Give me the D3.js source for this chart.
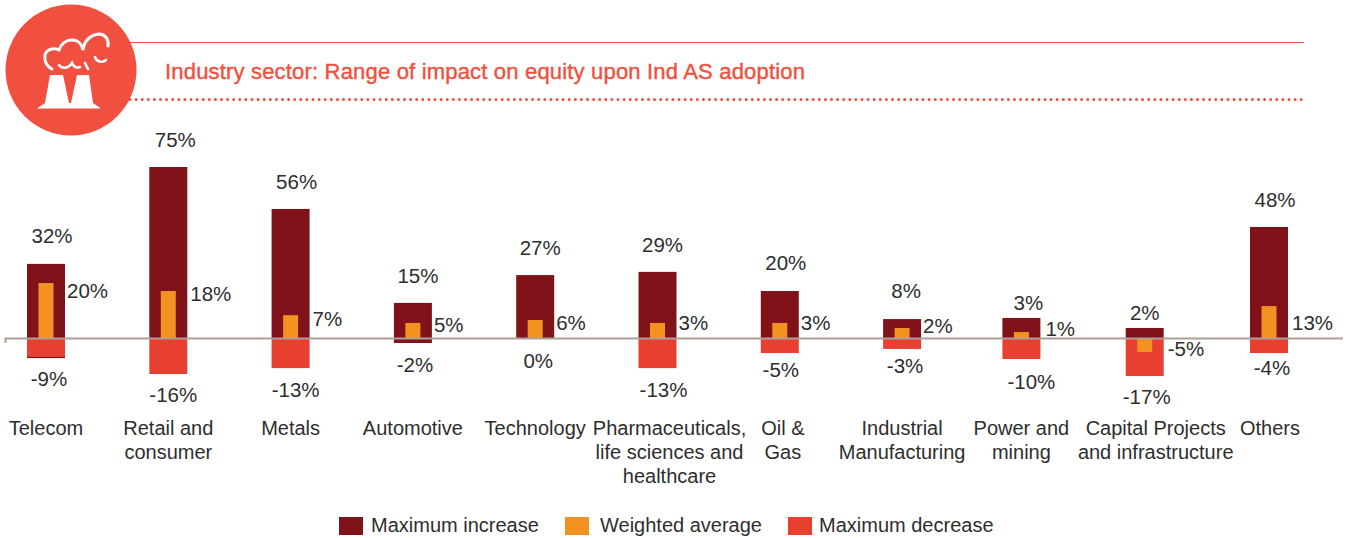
<!DOCTYPE html>
<html><head><meta charset="utf-8">
<style>html,body{margin:0;padding:0;background:#fff;overflow:hidden}svg{display:block}text{font-family:"Liberation Sans",Arial,sans-serif}</style>
<script src="https://cdn.jsdelivr.net/npm/d3@7"></script></head><body>
<svg id="c" width="1349" height="538"></svg>
<script>
const categories=[["Telecom"],["Retail and","consumer"],["Metals"],["Automotive"],["Technology"],["Pharmaceuticals,","life sciences and","healthcare"],["Oil &","Gas"],["Industrial","Manufacturing"],["Power and","mining"],["Capital Projects","and infrastructure"],["Others"]];
// printed labels
const maxIncrease=[32,75,56,15,27,29,20,8,3,2,48];
const weightedAverage=[20,18,7,5,6,3,3,2,1,-5,13];
const maxDecrease=[-9,-16,-13,-2,0,-13,-5,-3,-10,-17,-4];
// bar lengths as drawn in the picture (they do not always follow the printed label)
const drawnIncrease=[32.5,75,56.6,15.4,27.6,29,20.6,8.3,8.8,4.4,48.7];
const drawnIncreaseBelow=[-8.8,0,0,-2.2,0,0,0,0,0,0,0];
const drawnAverage=[24.1,20.6,10,6.6,7.9,6.6,6.6,4.4,2.6,-6.1,14];
const drawnDecrease=[-8.3,-15.8,-13.2,0,0,-13.2,-6.6,-4.8,-9.2,-16.7,-6.6];
const legendLabels=["Maximum increase","Weighted average","Maximum decrease"];
const title="Industry sector: Range of impact on equity upon Ind AS adoption";
const colors={inc:"#7f1319",avg:"#f39220",dec:"#e84030",axis:"#ab9f97",head:"#f15040",text:"#2e2e2e"};
// layout nudges
const barDx=[0,0,0,0,0,0,0,0,-3,-2,0];
const catDx=[0,0,0,0,0,12,3,0,0,11,1];
const topDx=[6,7,6,5,5,5,6,4,7,0,6];
const topDy=[-21,-20,-20,-20,-20,-20,-21,-21,-8,-8,-20];
const botDx=[3,5,5,2,3,6,1,3,10,2,3];
const botDy=[28,28,29,29,30,29,24,24,30,28,22];
const avgDx=[21,22,22,21,21,21,21,21,24,23,23];
const avgDy=[15,10,11,9,10,7,7,5,4,4,24];
const svg=d3.select("#c");
const idx=categories.map((d,i)=>i);
const xs=d3.scalePoint().domain(idx).range([46,1269]);
const x=i=>xs(i)+barDx[i];
const y=d3.scaleLinear().domain([0,75]).range([338,167]);
const bw=38,aw=15;
const bars=svg.append("g");
const rect=(hi,lo,w,col)=>bars.append("g").selectAll("rect").data(idx).join("rect")
 .attr("x",i=>x(i)-w/2).attr("width",w)
 .attr("y",i=>y(Math.max(hi[i],lo[i]))).attr("height",i=>Math.abs(y(lo[i])-y(hi[i]))).attr("fill",col);
const zeros=idx.map(()=>0);
rect(drawnIncrease,drawnIncreaseBelow,bw,colors.inc);
rect(zeros,drawnDecrease,bw,colors.dec);
rect(drawnAverage,zeros,aw,colors.avg);
svg.append("path").attr("d","M5.5 343V338.5H1343").attr("fill","none").attr("stroke",colors.axis).attr("stroke-width",2);
const fs=20.5;
const lab=(t,px,py,a)=>svg.append("text").attr("x",px).attr("y",py).attr("text-anchor",a||"middle").attr("font-size",fs).attr("fill",colors.text).text(t);
idx.forEach(i=>{
 lab(maxIncrease[i]+"%",x(i)+topDx[i],y(drawnIncrease[i])+topDy[i]);
 const bot=Math.min(drawnDecrease[i],drawnIncreaseBelow[i]);
 lab(maxDecrease[i]+"%",x(i)+botDx[i],y(bot)+botDy[i]);
 lab(weightedAverage[i]+"%",x(i)+avgDx[i],y(drawnAverage[i])+avgDy[i],"start");
});
idx.forEach(i=>{
 const t=svg.append("text").attr("text-anchor","middle").attr("font-size",20).attr("fill",colors.text);
 categories[i].forEach((s,k)=>t.append("tspan").attr("x",x(i)+catDx[i]).attr("y",435+k*24).text(s));
});
[[339,371,colors.inc],[565,600,colors.avg],[788,819,colors.dec]].forEach((l,i)=>{
 svg.append("rect").attr("x",l[0]).attr("y",517).attr("width",24).attr("height",18).attr("fill",l[2]);
 svg.append("text").attr("x",l[1]).attr("y",532).attr("font-size",20).attr("fill",colors.text).text(legendLabels[i]);
});
svg.append("line").attr("x1",128).attr("x2",1304).attr("y1",42.5).attr("y2",42.5).attr("stroke",colors.head).attr("stroke-width",1.2);
svg.append("line").attr("x1",130).attr("x2",1306).attr("y1",99.5).attr("y2",99.5).attr("stroke",colors.head).attr("stroke-width",3).attr("stroke-dasharray","0 6.1").attr("stroke-linecap","round");
svg.append("text").attr("x",165).attr("y",79).attr("font-size",22).attr("fill",colors.head).attr("stroke",colors.head).attr("stroke-width",.4).attr("textLength",640).text(title);
svg.append("circle").attr("cx",71).attr("cy",70).attr("r",65.5).attr("fill",colors.head);
const ic=svg.append("g");
ic.append("path").attr("fill","#fff").attr("d","M37 108.5L45 103L50 75H63L69 103H71L77 75H89L93 103L101 108.5Z");
ic.append("path").attr("fill","none").attr("stroke","#fff").attr("stroke-width",3).attr("stroke-linecap","round").attr("d","M52 69C46 66 44 60 45 55C46 50 53 47 59 50C61 44 66 40 72 40C78 40 82 44 83 50C84 40 92 34 100 34C106 35 109 40 108 46");
ic.append("path").attr("fill","none").attr("stroke","#fff").attr("stroke-width",2.6).attr("stroke-linecap","round").attr("d","M59 65C62 69 68 69 72 63C74 68 78 68 80 67M85 63L88 69M95 57C96 62 103 63 106 60");
</script></body></html>
